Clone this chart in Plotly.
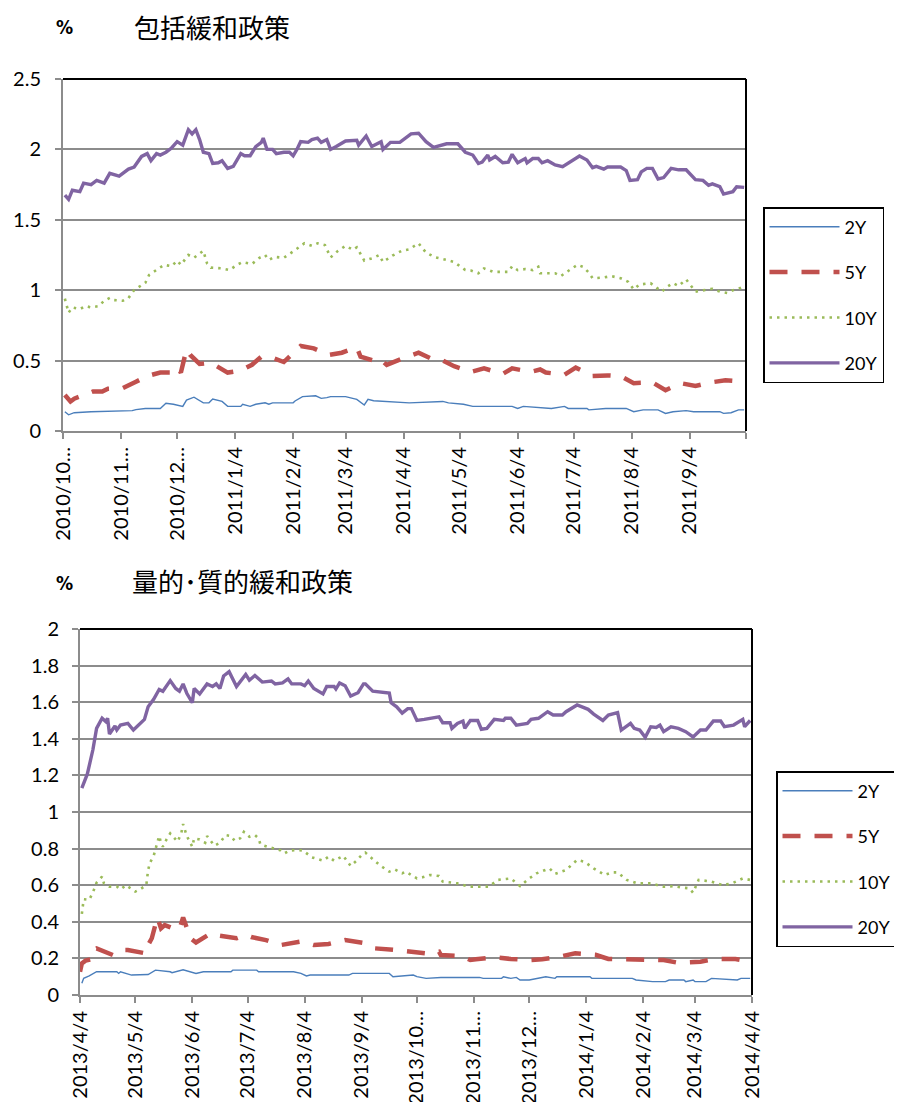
import plotly.graph_objects as go

# ---------------- Top chart: 包括緩和政策 ----------------
T_2Y_D = ["2010-10-05","2010-10-07","2010-10-10","2010-10-19","2010-11-10","2010-11-12","2010-11-17","2010-11-25","2010-11-28","2010-12-02",
          "2010-12-07","2010-12-09","2010-12-13","2010-12-18","2010-12-21","2010-12-23","2010-12-28","2010-12-31","2011-01-07","2011-01-08",
          "2011-01-12","2011-01-15","2011-01-20","2011-01-22","2011-01-24","2011-02-04","2011-02-05","2011-02-09","2011-02-16","2011-02-19",
          "2011-02-22","2011-02-24","2011-03-04","2011-03-10","2011-03-14","2011-03-16","2011-03-19","2011-04-07","2011-04-25","2011-04-28",
          "2011-05-06","2011-05-11","2011-06-01","2011-06-04","2011-06-07","2011-06-22","2011-06-29","2011-07-01","2011-07-11","2011-07-12",
          "2011-07-21","2011-08-01","2011-08-05","2011-08-10","2011-08-18","2011-08-22","2011-08-26","2011-09-02","2011-09-06","2011-09-20",
          "2011-09-22","2011-09-26","2011-09-30","2011-10-03"]
T_2Y = [0.137,0.115,0.13,0.137,0.145,0.152,0.16,0.16,0.197,0.19,
        0.175,0.22,0.24,0.20,0.20,0.227,0.21,0.175,0.175,0.19,
        0.175,0.19,0.20,0.19,0.20,0.20,0.213,0.244,0.25,0.232,
        0.237,0.244,0.244,0.225,0.185,0.225,0.215,0.20,0.21,0.20,
        0.19,0.175,0.175,0.16,0.175,0.16,0.175,0.16,0.16,0.15,
        0.16,0.16,0.137,0.15,0.15,0.125,0.137,0.145,0.137,0.137,
        0.125,0.13,0.15,0.15]

T_5Y_D = ["2010-10-05","2010-10-08","2010-10-10","2010-10-20","2010-10-25","2010-10-28","2010-11-05","2010-11-08","2010-11-12","2010-11-18",
          "2010-11-25","2010-12-01","2010-12-04","2010-12-06","2010-12-09","2010-12-11","2010-12-16","2010-12-22","2010-12-31","2011-01-07",
          "2011-01-13","2011-01-18","2011-01-25","2011-01-30","2011-02-08","2011-02-15","2011-02-23","2011-03-02","2011-03-10","2011-03-12",
          "2011-03-19","2011-03-22","2011-03-26","2011-04-06","2011-04-12","2011-04-21","2011-04-25","2011-05-01","2011-05-10","2011-05-17",
          "2011-05-27","2011-06-01","2011-06-11","2011-06-16","2011-06-19","2011-06-29","2011-07-05","2011-07-14","2011-07-22","2011-07-29",
          "2011-08-05","2011-08-15","2011-08-22","2011-08-30","2011-09-07","2011-09-15","2011-09-23","2011-10-03"]
T_5Y = [0.256,0.21,0.23,0.28,0.28,0.30,0.305,0.327,0.35,0.39,
        0.415,0.415,0.452,0.415,0.58,0.54,0.476,0.485,0.415,0.43,
        0.47,0.528,0.515,0.49,0.604,0.587,0.54,0.556,0.594,0.528,
        0.50,0.515,0.47,0.528,0.556,0.50,0.50,0.46,0.42,0.445,
        0.405,0.445,0.42,0.437,0.415,0.40,0.45,0.39,0.395,0.39,
        0.34,0.345,0.29,0.34,0.32,0.345,0.36,0.35]

T_10Y_D = ["2010-10-05","2010-10-07","2010-10-09","2010-10-13","2010-10-16","2010-10-19","2010-10-23","2010-10-26","2010-10-29","2010-10-31",
           "2010-11-05","2010-11-08","2010-11-11","2010-11-14","2010-11-17","2010-11-19","2010-11-23","2010-11-27","2010-12-01","2010-12-04",
           "2010-12-06","2010-12-10","2010-12-13","2010-12-18","2010-12-20","2010-12-22","2010-12-28","2011-01-01","2011-01-05","2011-01-08",
           "2011-01-13","2011-01-17","2011-01-20","2011-01-22","2011-01-25","2011-01-30","2011-02-04","2011-02-10","2011-02-14","2011-02-17",
           "2011-02-21","2011-02-24","2011-02-28","2011-03-04","2011-03-08","2011-03-10","2011-03-14","2011-03-19","2011-03-22","2011-03-24",
           "2011-03-29","2011-04-03","2011-04-07","2011-04-12","2011-04-16","2011-04-21","2011-04-27","2011-05-01","2011-05-07","2011-05-10",
           "2011-05-14","2011-05-17","2011-05-22","2011-05-30","2011-06-01","2011-06-04","2011-06-08","2011-06-12","2011-06-15","2011-06-16",
           "2011-06-24","2011-06-27","2011-07-03","2011-07-06","2011-07-09","2011-07-12","2011-07-14","2011-07-20","2011-07-24","2011-07-29",
           "2011-08-02","2011-08-05","2011-08-08","2011-08-14","2011-08-17","2011-08-20","2011-08-23","2011-08-26","2011-08-29","2011-09-02",
           "2011-09-07","2011-09-13","2011-09-16","2011-09-20","2011-09-24","2011-09-27","2011-09-30","2011-10-03"]
T_10Y = [0.94,0.84,0.878,0.866,0.887,0.878,0.887,0.925,0.945,0.93,
         0.925,0.945,1.00,1.025,1.053,1.108,1.143,1.18,1.17,1.21,
         1.18,1.25,1.23,1.28,1.19,1.16,1.155,1.143,1.18,1.20,
         1.186,1.23,1.25,1.215,1.237,1.23,1.275,1.333,1.315,1.333,
         1.32,1.233,1.28,1.315,1.287,1.305,1.21,1.23,1.25,1.20,
         1.245,1.28,1.29,1.333,1.267,1.233,1.215,1.20,1.143,1.14,
         1.12,1.155,1.13,1.13,1.17,1.143,1.15,1.143,1.167,1.12,
         1.12,1.10,1.155,1.18,1.165,1.125,1.085,1.09,1.10,1.085,
         1.06,1.006,1.04,1.05,1.02,0.99,1.025,1.05,1.03,1.077,
         0.99,1.00,1.01,0.99,0.98,1.00,1.01,1.03]

T_20Y_D = ["2010-10-05","2010-10-07","2010-10-09","2010-10-13","2010-10-15","2010-10-19","2010-10-22","2010-10-26","2010-10-29","2010-11-03",
           "2010-11-08","2010-11-11","2010-11-15","2010-11-18","2010-11-20","2010-11-23","2010-11-25","2010-11-28","2010-12-01","2010-12-04",
           "2010-12-07","2010-12-10","2010-12-12","2010-12-14","2010-12-16","2010-12-18","2010-12-21","2010-12-23","2010-12-26","2010-12-28",
           "2010-12-31","2011-01-03","2011-01-07","2011-01-09","2011-01-12","2011-01-15","2011-01-18","2011-01-19","2011-01-21","2011-01-24",
           "2011-01-26","2011-01-30","2011-02-02","2011-02-04","2011-02-06","2011-02-08","2011-02-12","2011-02-14","2011-02-17","2011-02-19",
           "2011-02-22","2011-02-24","2011-02-27","2011-03-02","2011-03-04","2011-03-10","2011-03-11","2011-03-15","2011-03-18","2011-03-23",
           "2011-03-24","2011-03-28","2011-04-02","2011-04-08","2011-04-12","2011-04-16","2011-04-20","2011-04-27","2011-05-03","2011-05-07",
           "2011-05-11","2011-05-14","2011-05-16","2011-05-19","2011-05-20","2011-05-23","2011-05-27","2011-05-30","2011-06-01","2011-06-04",
           "2011-06-08","2011-06-09","2011-06-12","2011-06-15","2011-06-17","2011-06-20","2011-06-24","2011-06-28","2011-07-02","2011-07-07",
           "2011-07-11","2011-07-14","2011-07-16","2011-07-20","2011-07-22","2011-07-29","2011-08-01","2011-08-03","2011-08-07","2011-08-09",
           "2011-08-12","2011-08-15","2011-08-18","2011-08-21","2011-08-25","2011-08-29","2011-09-02","2011-09-07","2011-09-11","2011-09-14",
           "2011-09-16","2011-09-20","2011-09-22","2011-09-27","2011-09-29","2011-10-03"]
T_20Y = [1.676,1.645,1.71,1.70,1.76,1.75,1.78,1.76,1.83,1.81,
         1.86,1.875,1.95,1.97,1.92,1.97,1.96,1.98,2.01,2.055,
         2.03,2.14,2.11,2.14,2.07,1.98,1.97,1.90,1.905,1.92,
         1.865,1.88,1.97,1.955,1.955,2.02,2.05,2.08,2.00,2.00,
         1.97,1.98,1.98,1.955,2.00,2.055,2.05,2.07,2.08,2.05,
         2.07,2.00,2.02,2.045,2.06,2.065,2.03,2.095,2.02,2.055,
         2.00,2.05,2.05,2.11,2.115,2.055,2.015,2.04,2.04,1.98,
         1.96,1.90,1.91,1.96,1.925,1.95,1.905,1.91,1.965,1.905,
         1.935,1.905,1.935,1.935,1.905,1.92,1.89,1.877,1.91,1.953,
         1.925,1.87,1.88,1.86,1.875,1.875,1.85,1.78,1.785,1.84,
         1.865,1.865,1.79,1.80,1.865,1.855,1.855,1.785,1.78,1.745,
         1.755,1.735,1.683,1.70,1.735,1.73]

T_TICKS = ["2010-10-04","2010-11-04","2010-12-04","2011-01-04","2011-02-04","2011-03-04","2011-04-04",
           "2011-05-04","2011-06-04","2011-07-04","2011-08-04","2011-09-04","2011-10-04"]
T_TICKTEXT = ["2010/10…","2010/11…","2010/12…","2011/1/4","2011/2/4","2011/3/4","2011/4/4",
              "2011/5/4","2011/6/4","2011/7/4","2011/8/4","2011/9/4",""]

# ---------------- Bottom chart: 量的･質的緩和政策 ----------------
B_2Y_D = ["2013-04-05","2013-04-06","2013-04-09","2013-04-13","2013-04-24","2013-04-25","2013-04-26","2013-05-02","2013-05-11","2013-05-15",
          "2013-05-23","2013-05-24","2013-05-30","2013-06-06","2013-06-10","2013-06-25","2013-06-26","2013-07-09","2013-07-10","2013-07-29",
          "2013-08-02","2013-08-05","2013-08-07","2013-08-28","2013-08-30","2013-09-19","2013-09-21","2013-09-28","2013-10-02","2013-10-04",
          "2013-10-09","2013-10-17","2013-11-07","2013-11-09","2013-11-19","2013-11-20","2013-11-24","2013-11-27","2013-11-29","2013-12-04",
          "2013-12-13","2013-12-18","2013-12-19","2014-01-06","2014-01-07","2014-01-29","2014-01-31","2014-02-09","2014-02-16","2014-02-18",
          "2014-02-26","2014-02-27","2014-03-03","2014-03-04","2014-03-10","2014-03-13","2014-03-27","2014-03-29","2014-04-03"]
B_2Y = [0.064,0.091,0.104,0.127,0.127,0.118,0.127,0.109,0.112,0.136,
        0.127,0.122,0.138,0.118,0.127,0.127,0.136,0.136,0.127,0.127,
        0.118,0.104,0.109,0.109,0.118,0.118,0.10,0.104,0.109,0.10,
        0.091,0.096,0.096,0.091,0.091,0.10,0.091,0.096,0.082,0.082,
        0.10,0.091,0.10,0.10,0.091,0.091,0.082,0.073,0.073,0.082,
        0.082,0.073,0.082,0.073,0.073,0.091,0.082,0.091,0.091]

B_5Y_D = ["2013-04-04","2013-04-05","2013-04-07","2013-04-10","2013-04-11","2013-04-13","2013-04-22","2013-04-25","2013-04-27","2013-04-30",
          "2013-05-10","2013-05-11","2013-05-13","2013-05-16","2013-05-18","2013-05-20","2013-05-26","2013-05-28","2013-05-30","2013-06-03",
          "2013-06-06","2013-06-14","2013-06-16","2013-06-21","2013-06-28","2013-07-03","2013-07-06","2013-07-14","2013-07-22","2013-08-02",
          "2013-08-09","2013-08-17","2013-08-26","2013-09-05","2013-09-11","2013-09-22","2013-09-30","2013-10-09","2013-10-16","2013-10-17",
          "2013-10-28","2013-11-02","2013-11-05","2013-11-15","2013-11-24","2013-12-04","2013-12-11","2013-12-19","2013-12-29","2014-01-09",
          "2014-01-16","2014-01-27","2014-02-04","2014-02-15","2014-02-23","2014-03-07","2014-03-15","2014-03-26","2014-03-31","2014-04-03"]
B_5Y = [0.127,0.173,0.188,0.195,0.246,0.255,0.218,0.23,0.246,0.246,
        0.227,0.273,0.31,0.424,0.364,0.382,0.358,0.358,0.424,0.31,
        0.287,0.337,0.328,0.319,0.31,0.328,0.317,0.30,0.273,0.292,
        0.273,0.279,0.30,0.284,0.255,0.246,0.237,0.227,0.237,0.218,
        0.213,0.191,0.195,0.206,0.197,0.191,0.195,0.206,0.228,0.22,
        0.197,0.197,0.191,0.191,0.176,0.182,0.197,0.197,0.188,0.20]

B_10Y_D = ["2013-04-05","2013-04-06","2013-04-09","2013-04-11","2013-04-13","2013-04-16","2013-04-17","2013-04-20","2013-04-24","2013-04-26",
           "2013-04-29","2013-05-04","2013-05-07","2013-05-10","2013-05-11","2013-05-12","2013-05-14","2013-05-15","2013-05-17","2013-05-18",
           "2013-05-19","2013-05-21","2013-05-23","2013-05-27","2013-05-29","2013-05-30","2013-06-01","2013-06-04","2013-06-05","2013-06-08",
           "2013-06-11","2013-06-12","2013-06-16","2013-06-19","2013-06-22","2013-06-25","2013-06-27","2013-06-30","2013-07-02","2013-07-05",
           "2013-07-08","2013-07-10","2013-07-11","2013-07-15","2013-07-22","2013-07-24","2013-07-27","2013-07-31","2013-08-03","2013-08-08",
           "2013-08-14","2013-08-17","2013-08-20","2013-08-25","2013-08-29","2013-09-01","2013-09-04","2013-09-06","2013-09-11","2013-09-14",
           "2013-09-19","2013-09-22","2013-09-26","2013-09-28","2013-10-04","2013-10-07","2013-10-11","2013-10-16","2013-10-18","2013-10-26",
           "2013-11-01","2013-11-07","2013-11-12","2013-11-17","2013-11-24","2013-11-29","2013-12-04","2013-12-08","2013-12-13","2013-12-15",
           "2013-12-18","2013-12-24","2013-12-30","2014-01-03","2014-01-08","2014-01-14","2014-01-18","2014-01-21","2014-01-26","2014-02-01",
           "2014-02-08","2014-02-15","2014-02-21","2014-02-24","2014-03-01","2014-03-03","2014-03-06","2014-03-13","2014-03-19","2014-03-24",
           "2014-03-30","2014-04-03"]
B_10Y = [0.443,0.523,0.52,0.56,0.614,0.647,0.61,0.592,0.592,0.577,
         0.60,0.565,0.58,0.60,0.683,0.723,0.76,0.796,0.869,0.832,
         0.81,0.85,0.883,0.838,0.883,0.934,0.869,0.81,0.856,0.85,
         0.832,0.869,0.816,0.832,0.874,0.869,0.843,0.856,0.892,0.865,
         0.874,0.856,0.823,0.81,0.79,0.774,0.79,0.792,0.79,0.752,
         0.734,0.756,0.734,0.76,0.705,0.732,0.765,0.778,0.732,0.708,
         0.674,0.686,0.665,0.674,0.637,0.643,0.656,0.65,0.62,0.61,
         0.592,0.592,0.592,0.629,0.637,0.595,0.637,0.665,0.686,0.692,
         0.662,0.683,0.738,0.728,0.692,0.656,0.67,0.67,0.629,0.61,
         0.61,0.592,0.595,0.588,0.583,0.559,0.629,0.62,0.601,0.61,
         0.637,0.629]

B_20Y_D = ["2013-04-05","2013-04-08","2013-04-11","2013-04-13","2013-04-16","2013-04-18","2013-04-19","2013-04-20","2013-04-23","2013-04-24",
           "2013-04-26","2013-04-30","2013-05-03","2013-05-09","2013-05-11","2013-05-14","2013-05-17","2013-05-19","2013-05-23","2013-05-26",
           "2013-05-28","2013-05-30","2013-06-01","2013-06-04","2013-06-05","2013-06-08","2013-06-12","2013-06-15","2013-06-17","2013-06-19",
           "2013-06-21","2013-06-24","2013-06-28","2013-07-03","2013-07-05","2013-07-08","2013-07-12","2013-07-17","2013-07-19","2013-07-23",
           "2013-07-26","2013-07-28","2013-08-02","2013-08-04","2013-08-06","2013-08-09","2013-08-14","2013-08-16","2013-08-20","2013-08-21",
           "2013-08-23","2013-08-26","2013-08-29","2013-09-02","2013-09-05","2013-09-06","2013-09-10","2013-09-15","2013-09-19","2013-09-20",
           "2013-09-23","2013-09-26","2013-09-29","2013-10-01","2013-10-04","2013-10-08","2013-10-11","2013-10-16","2013-10-18","2013-10-22",
           "2013-10-23","2013-10-26","2013-10-29","2013-10-30","2013-11-02","2013-11-06","2013-11-08","2013-11-11","2013-11-15","2013-11-20",
           "2013-11-21","2013-11-24","2013-11-27","2013-12-03","2013-12-05","2013-12-09","2013-12-14","2013-12-17","2013-12-22","2013-12-24",
           "2013-12-30","2014-01-05","2014-01-08","2014-01-13","2014-01-16","2014-01-21","2014-01-23","2014-01-28","2014-01-30","2014-02-02",
           "2014-02-05","2014-02-08","2014-02-11","2014-02-13","2014-02-15","2014-02-19","2014-02-23","2014-02-27","2014-03-03","2014-03-07",
           "2014-03-10","2014-03-14","2014-03-18","2014-03-20","2014-03-25","2014-03-30","2014-03-31","2014-04-03"]
B_20Y = [1.13,1.208,1.34,1.457,1.512,1.494,1.512,1.426,1.47,1.448,
         1.475,1.484,1.448,1.506,1.575,1.616,1.67,1.66,1.718,1.675,
         1.66,1.70,1.649,1.597,1.675,1.645,1.70,1.686,1.70,1.675,
         1.743,1.767,1.686,1.752,1.72,1.746,1.71,1.716,1.70,1.705,
         1.727,1.70,1.70,1.69,1.716,1.675,1.645,1.686,1.686,1.672,
         1.705,1.69,1.634,1.652,1.70,1.70,1.66,1.656,1.65,1.597,
         1.575,1.54,1.565,1.565,1.50,1.506,1.512,1.52,1.488,1.488,
         1.457,1.484,1.497,1.457,1.50,1.50,1.452,1.457,1.506,1.50,
         1.512,1.512,1.475,1.484,1.506,1.512,1.548,1.53,1.53,1.548,
         1.585,1.561,1.535,1.50,1.53,1.543,1.448,1.484,1.457,1.448,
         1.408,1.466,1.462,1.475,1.439,1.466,1.457,1.439,1.41,1.448,
         1.448,1.497,1.497,1.466,1.475,1.506,1.466,1.50]

B_TICKS = ["2013-04-04","2013-05-04","2013-06-04","2013-07-04","2013-08-04","2013-09-04","2013-10-04",
           "2013-11-04","2013-12-04","2014-01-04","2014-02-04","2014-03-04","2014-04-04"]
B_TICKTEXT = ["2013/4/4","2013/5/4","2013/6/4","2013/7/4","2013/8/4","2013/9/4","2013/10…",
              "2013/11…","2013/12…","2014/1/4","2014/2/4","2014/3/4","2014/4/4"]

SERIES_NAMES = ["2Y", "5Y", "10Y", "20Y"]

# ---------------- styling ----------------
PAGE_OFFSET = 8          # default body margin of the html page
W, H = 902 - PAGE_OFFSET, 1102 - PAGE_OFFSET
FONT = "Lato, 'Liberation Sans', Arial, sans-serif"
CJK = "'Noto Sans CJK JP', sans-serif"
NARROW = "'Liberation Sans Narrow', 'DejaVu Sans Condensed', sans-serif"
GRID = "#8c8c8c"
STYLES = {
    "2Y": dict(color="#4A7EBB", width=1.4, dash="solid"),
    "5Y": dict(color="#C0504D", width=4.5, dash="18px,14px"),
    "10Y": dict(color="#9BBB59", width=2.6, dash="2.5px,5px"),
    "20Y": dict(color="#8064A2", width=3.4, dash="solid"),
}

def px_x(p):
    return (p - PAGE_OFFSET) / W

def px_y(p):
    return (H - (p - PAGE_OFFSET)) / H

fig = go.Figure()

top = [(T_2Y_D, T_2Y), (T_5Y_D, T_5Y), (T_10Y_D, T_10Y), (T_20Y_D, T_20Y)]
bot = [(B_2Y_D, B_2Y), (B_5Y_D, B_5Y), (B_10Y_D, B_10Y), (B_20Y_D, B_20Y)]

for name, (d, v) in zip(SERIES_NAMES, top):
    fig.add_trace(go.Scatter(x=d, y=v, mode="lines", name=name, line=STYLES[name],
                             xaxis="x", yaxis="y", legend="legend", legendgroup="a" + name,
                             hoverinfo="skip"))
for name, (d, v) in zip(SERIES_NAMES, bot):
    fig.add_trace(go.Scatter(x=d, y=v, mode="lines", name=name, line=STYLES[name],
                             xaxis="x2", yaxis="y2", legend="legend2", legendgroup="b" + name,
                             hoverinfo="skip"))

axis_common = dict(showline=True, linecolor=GRID, linewidth=2, ticks="outside",
                   tickcolor=GRID, ticklen=6, tickwidth=1.5, zeroline=False,
                   tickfont=dict(family=FONT, size=20, color="black"))

legend_common = dict(xanchor="left", yanchor="top", bordercolor="black", borderwidth=1.5,
                     bgcolor="white", font=dict(family=FONT, size=18, color="black"),
                     tracegroupgap=19, itemwidth=70)

fig.update_layout(
    width=W, height=H,
    margin=dict(l=0, r=0, t=0, b=0, autoexpand=False),
    paper_bgcolor="white", plot_bgcolor="white",
    showlegend=True,
    xaxis=dict(domain=[px_x(63), px_x(746)], anchor="y", type="date",
               range=["2010-10-04", "2011-10-04"], tickmode="array",
               tickvals=T_TICKS, ticktext=T_TICKTEXT, tickangle=-90,
               showgrid=False, **axis_common),
    yaxis=dict(domain=[px_y(431), px_y(79)], anchor="x", range=[0, 2.5],
               tickmode="array", tickvals=[0, 0.5, 1, 1.5, 2, 2.5],
               ticktext=["0", "0.5", "1", "1.5", "2", "2.5"],
               showgrid=True, gridcolor=GRID, gridwidth=1.5, ticklabelstandoff=10,
               **axis_common),
    xaxis2=dict(domain=[px_x(80), px_x(752)], anchor="y2", type="date",
                range=["2013-04-04", "2014-04-04"], tickmode="array",
                tickvals=B_TICKS, ticktext=B_TICKTEXT, tickangle=-90,
                showgrid=False, **axis_common),
    yaxis2=dict(domain=[px_y(995), px_y(629)], anchor="x2", range=[0, 2],
                tickmode="array", tickvals=[0, 0.2, 0.4, 0.6, 0.8, 1, 1.2, 1.4, 1.6, 1.8, 2],
                ticktext=["0", "0.2", "0.4", "0.6", "0.8", "1", "1.2", "1.4", "1.6", "1.8", "2"],
                showgrid=True, gridcolor=GRID, gridwidth=1.5, ticklabelstandoff=9,
                **axis_common),
    legend=dict(x=px_x(763), y=px_y(207), **legend_common),
    legend2=dict(x=px_x(776), y=px_y(771), **legend_common),
)

# black top / right border of each plot area
for xr, yr in (("x domain", "y domain"), ("x2 domain", "y2 domain")):
    fig.add_shape(type="line", xref=xr, yref=yr, x0=0, x1=1, y0=1, y1=1,
                  line=dict(color="black", width=2))
    fig.add_shape(type="line", xref=xr, yref=yr, x0=1, x1=1, y0=0, y1=1,
                  line=dict(color="black", width=2))

# titles
title_common = dict(xref="paper", yref="paper", showarrow=False, xanchor="left", yanchor="middle")
fig.add_annotation(x=px_x(54), y=px_y(27), text="<b>%</b>",
                   font=dict(family=NARROW, size=19, color="black"), **title_common)
fig.add_annotation(x=px_x(132), y=px_y(27), text="包括緩和政策",
                   font=dict(family=CJK, size=26, color="black"), **title_common)
fig.add_annotation(x=px_x(54), y=px_y(583), text="<b>%</b>",
                   font=dict(family=NARROW, size=19, color="black"), **title_common)
fig.add_annotation(x=px_x(130), y=px_y(580), text="量的･質的緩和政策",
                   font=dict(family=CJK, size=26, color="black"), **title_common)

fig.write_html("out.html")
